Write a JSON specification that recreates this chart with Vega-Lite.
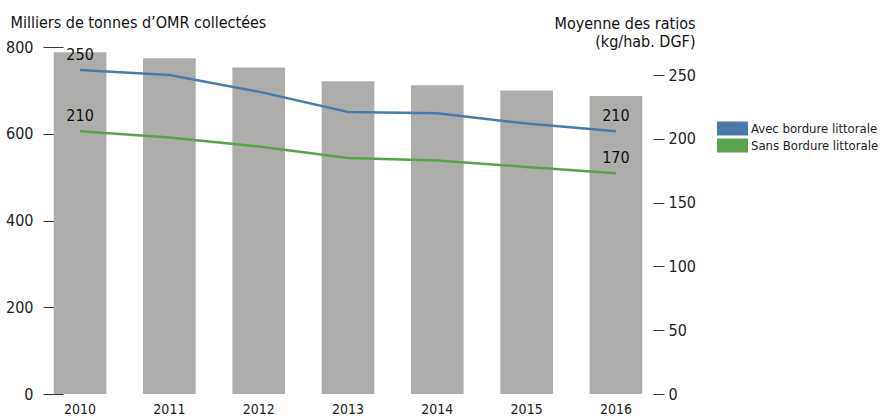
{
  "$schema": "https://vega.github.io/schema/vega-lite/v6.json",
  "width": 610,
  "height": 347,
  "autosize": {"type": "none"},
  "padding": {"left": 43, "top": 47, "right": 235, "bottom": 22},
  "config": {
    "view": {"stroke": null},
    "font": "DejaVu Sans Condensed, Roboto",
    "axis": {"labelFont": "DejaVu Sans Condensed, Roboto", "titleFont": "DejaVu Sans Condensed, Roboto", "grid": false, "domain": false},
    "legend": {"labelFont": "DejaVu Sans Condensed, Roboto"}
  },
  "datasets": {
    "bars": [
      {"annee": "2010", "tonnes": 788},
      {"annee": "2011", "tonnes": 774},
      {"annee": "2012", "tonnes": 753},
      {"annee": "2013", "tonnes": 721},
      {"annee": "2014", "tonnes": 712},
      {"annee": "2015", "tonnes": 700},
      {"annee": "2016", "tonnes": 687}
    ],
    "lignes": [
      {"annee": "2010", "serie": "Avec bordure littorale", "ratio": 254, "label": "250"},
      {"annee": "2011", "serie": "Avec bordure littorale", "ratio": 250, "label": null},
      {"annee": "2012", "serie": "Avec bordure littorale", "ratio": 237, "label": null},
      {"annee": "2013", "serie": "Avec bordure littorale", "ratio": 221, "label": null},
      {"annee": "2014", "serie": "Avec bordure littorale", "ratio": 220, "label": null},
      {"annee": "2015", "serie": "Avec bordure littorale", "ratio": 212, "label": null},
      {"annee": "2016", "serie": "Avec bordure littorale", "ratio": 206, "label": "210"},
      {"annee": "2010", "serie": "Sans Bordure littorale", "ratio": 206, "label": "210"},
      {"annee": "2011", "serie": "Sans Bordure littorale", "ratio": 201, "label": null},
      {"annee": "2012", "serie": "Sans Bordure littorale", "ratio": 194, "label": null},
      {"annee": "2013", "serie": "Sans Bordure littorale", "ratio": 185, "label": null},
      {"annee": "2014", "serie": "Sans Bordure littorale", "ratio": 183, "label": null},
      {"annee": "2015", "serie": "Sans Bordure littorale", "ratio": 178, "label": null},
      {"annee": "2016", "serie": "Sans Bordure littorale", "ratio": 173, "label": "170"}
    ]
  },
  "layer": [
    {
      "data": {"name": "bars"},
      "mark": {"type": "bar", "color": "#adaeac"},
      "encoding": {
        "x": {
          "field": "annee", "type": "ordinal",
          "scale": {"paddingInner": 0.41, "paddingOuter": 0.12},
          "axis": {"orient": "bottom", "title": null, "ticks": false, "labelAngle": 0, "labelPadding": 8, "labelFontSize": 14, "labelColor": "#222"}
        },
        "y": {
          "field": "tonnes", "type": "quantitative",
          "scale": {"domain": [0, 800], "nice": false},
          "axis": {
            "orient": "left", "values": [0, 200, 400, 600, 800], "offset": -20, "tickSize": 20, "tickColor": "#333",
            "labelPadding": 10, "labelFontSize": 16, "labelColor": "#222",
            "title": "Milliers de tonnes d’OMR collectées", "titleAngle": 0, "titleAlign": "left", "titleBaseline": "alphabetic",
            "titleX": -53, "titleY": -20, "titleFontSize": 16, "titleFontWeight": "normal", "titleColor": "#111"
          }
        }
      }
    },
    {
      "data": {"name": "lignes"},
      "encoding": {
        "x": {"field": "annee", "type": "ordinal"},
        "y": {
          "field": "ratio", "type": "quantitative",
          "scale": {"domain": [0, 272], "nice": false},
          "axis": {
            "orient": "right", "values": [0, 50, 100, 150, 200, 250], "tickSize": 11, "tickColor": "#333",
            "labelPadding": 4, "labelFontSize": 16, "labelColor": "#222",
            "title": ["Moyenne des ratios", "(kg/hab. DGF)"], "titleAngle": 0, "titleAlign": "right", "titleBaseline": "alphabetic",
            "titleX": 42, "titleY": -19, "titleFontSize": 16, "titleFontWeight": "normal", "titleColor": "#111", "titleLineHeight": 18
          }
        }
      },
      "layer": [
        {
          "mark": {"type": "line", "strokeWidth": 2.5},
          "encoding": {
            "color": {
              "field": "serie", "type": "nominal",
              "scale": {"domain": ["Avec bordure littorale", "Sans Bordure littorale"], "range": ["#4a7bab", "#5aa24d"]},
              "legend": {
                "orient": "none", "legendX": 667, "legendY": 74, "title": null,
                "symbolType": "M-1,0H1", "symbolSize": 961, "symbolStrokeWidth": 14, "symbolOpacity": 1,
                "clipHeight": 15, "rowPadding": 2, "labelOffset": -4, "labelFontSize": 13, "labelColor": "#222"
              }
            }
          }
        },
        {
          "transform": [{"filter": "datum.label != null"}],
          "mark": {"type": "text", "dy": -15, "fontSize": 16, "color": "#111"},
          "encoding": {"text": {"field": "label"}}
        }
      ]
    }
  ],
  "resolve": {"scale": {"y": "independent"}}
}
